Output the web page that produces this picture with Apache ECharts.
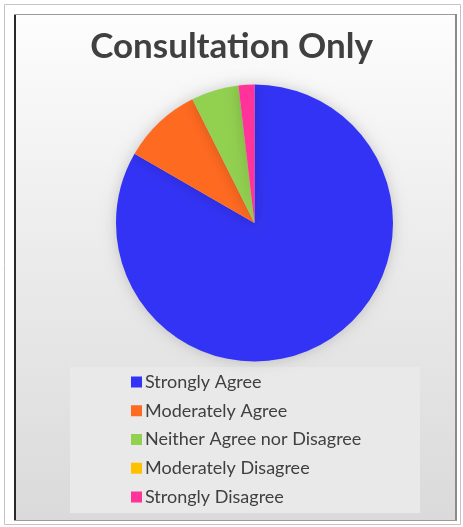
<!DOCTYPE html>
<html>
<head>
<meta charset="utf-8">
<script src="https://cdn.jsdelivr.net/npm/echarts@6/dist/echarts.min.js"></script>
<style>
  html, body { margin: 0; padding: 0; background: #ffffff; }
  #chart { width: 463px; height: 527px; }
</style>
</head>
<body>
<div id="chart"></div>
<script>
// Survey responses: "Consultation Only"
const categories = [
  'Strongly Agree',
  'Moderately Agree',
  'Neither Agree nor Disagree',
  'Moderately Disagree',
  'Strongly Disagree'
];
const responses = [45, 5, 3, 0, 1];
const sliceColors = ['#3333f5', '#ff6a21', '#92d050', '#ffc000', '#ff3399'];

const chart = echarts.init(document.getElementById('chart'), null, { renderer: 'canvas' });

const pieData = categories.map((name, i) => ({
  name: name,
  value: responses[i],
  itemStyle: { color: sliceColors[i] }
}));

const option = {
  backgroundColor: '#ffffff',
  animation: false,
  title: {
    text: 'Consultation Only',
    left: 'center',
    top: 24,
    textStyle: {
      fontFamily: 'Lato',
      fontWeight: 'bold',
      fontSize: 35,
      color: '#404040'
    }
  },
  legend: {
    orient: 'vertical',
    left: 126,
    top: 366,
    itemWidth: 11,
    itemHeight: 11,
    itemGap: 6.75,
    icon: 'rect',
    data: categories,
    textStyle: {
      fontFamily: 'Lato',
      fontSize: 18,
      lineHeight: 22,
      color: '#404040',
      padding: [0, 0, 0, -2]
    }
  },
  graphic: [
    // outer thin frame
    {
      type: 'rect', silent: true, z: -10,
      shape: { x: 4.5, y: 4.5, width: 456, height: 520 },
      style: { fill: '#ffffff', stroke: '#c4c4c4', lineWidth: 1 }
    },
    // chart area with soft vertical gradient
    {
      type: 'rect', silent: true, z: -9,
      shape: { x: 14, y: 14, width: 443, height: 507 },
      style: {
        fill: new echarts.graphic.LinearGradient(0, 0, 0, 1, [
          { offset: 0, color: '#fdfdfd' },
          { offset: 0.45, color: '#ececec' },
          { offset: 1, color: '#dadada' }
        ])
      }
    },
    // frame edges: dark left, grey top/right/bottom
    {
      type: 'line', silent: true, z: -8,
      shape: { x1: 15, y1: 14, x2: 15, y2: 521 },
      style: { stroke: '#2a2a2a', lineWidth: 2 }
    },
    {
      type: 'line', silent: true, z: -8,
      shape: { x1: 14, y1: 14.5, x2: 457, y2: 14.5 },
      style: { stroke: '#9a9a9a', lineWidth: 1 }
    },
    {
      type: 'line', silent: true, z: -8,
      shape: { x1: 456, y1: 14, x2: 456, y2: 521 },
      style: { stroke: '#8a8a8a', lineWidth: 2 }
    },
    {
      type: 'line', silent: true, z: -8,
      shape: { x1: 14, y1: 520.5, x2: 457, y2: 520.5 },
      style: { stroke: '#9a9a9a', lineWidth: 1 }
    },
    // legend panel
    {
      type: 'rect', silent: true, z: -7,
      shape: { x: 70, y: 367, width: 350, height: 146 },
      style: { fill: '#e9e9e9' }
    }
  ],
  series: [
    {
      type: 'pie',
      center: [254.5, 223],
      radius: 138.5,
      startAngle: 90,
      clockwise: true,
      minAngle: 0,
      avoidLabelOverlap: false,
      label: { show: false },
      labelLine: { show: false },
      emphasis: { disabled: true },
      itemStyle: {
        borderWidth: 0,
        shadowBlur: 14,
        shadowColor: 'rgba(0,0,0,0.18)'
      },
      data: pieData
    }
  ]
};

chart.setOption(option);
</script>
</body>
</html>
